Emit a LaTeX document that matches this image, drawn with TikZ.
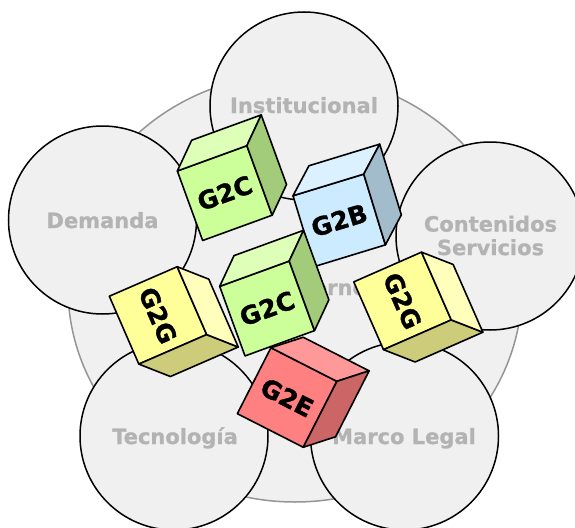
\documentclass[tikz,border=0pt]{standalone}
\usepackage{fontspec}
\setmainfont{DejaVu Sans}
\newfontfamily\areafont[BoldFeatures={FakeBold=0.8}]{DejaVu Sans}
\newfontfamily\cubefont[BoldFeatures={FakeBold=1.5}]{DejaVu Sans}
\usepackage{tikz}

\definecolor{areafill}{HTML}{F0F0F0}
\definecolor{labelgray}{HTML}{B3B3B3}
\definecolor{ringgray}{HTML}{959595}
\definecolor{g2cf}{HTML}{CCFF99}
\definecolor{g2ct}{HTML}{DDFFB8}
\definecolor{g2cs}{HTML}{A3CC7A}
\definecolor{g2bf}{HTML}{CCEBFF}
\definecolor{g2bt}{HTML}{DCF1FF}
\definecolor{g2bs}{HTML}{A3BCCC}
\definecolor{g2gf}{HTML}{FFFF99}
\definecolor{g2gl}{HTML}{FFFFBB}
\definecolor{g2gd}{HTML}{CCCC7A}
\definecolor{g2ef}{HTML}{FF8080}
\definecolor{g2et}{HTML}{FF9999}
\definecolor{g2es}{HTML}{CC6666}

\begin{document}
\begin{tikzpicture}[x=1pt, y=-1pt,
  area/.style={draw=black, line width=1.5pt, fill=areafill},
  areatext/.style={text=labelgray, font=\areafont\bfseries\fontsize{21}{23.5}\selectfont, inner sep=0pt},
  cubeline/.style={draw=black, line width=1.6pt, line join=round},
  cubetext/.style={font=\cubefont\bfseries\fontsize{25}{25}\selectfont, inner sep=0pt}]
\useasboundingbox (0,0) rectangle (575,527);
\clip (0,0) rectangle (575,527);
\fill[white] (0,0) rectangle (575,527);
\filldraw[fill=areafill, draw=ringgray, line width=1.5pt] (295,288) ellipse [x radius=227pt, y radius=214pt];
\foreach \cx/\cy in {304/106, 102.5/220, 490/236, 174/436, 404.5/436}{
	\filldraw[area] (\cx,\cy) circle [radius=94pt];
}
\node[areatext, anchor=base] (inst) at (304,113) {Institucional};
\node[areatext, anchor=base] (dem) at (102.5,228) {Demanda};
\node[areatext, align=center] (cont) at (490.5,235.5) {Contenidos\\Servicios};
\node[areatext, anchor=base] (tec) at (175,444) {Tecnología};
\node[areatext, anchor=base] (leg) at (404,444) {Marco Legal};
\node[areatext, anchor=base] (gob) at (313,295) {Gobierno};
\foreach \nm/\cx/\cy/\ang/\dy/\fc/\hc/\vc/\lab/\tr in {
	g2c-top/224.75/193.1/20/-24/g2cf/g2ct/g2cs/G2C/20,
	g2b/339.2/220.3/17/-24/g2bf/g2bt/g2bs/G2B/17,
	g2c-mid/267.1/308.5/20/-24/g2cf/g2ct/g2cs/G2C/20,
	g2g-left/158/315.4/23.5/24/g2gf/g2gd/g2gl/G2G/-66.5,
	g2g-right/402.5/300.9/23.7/24/g2gf/g2gd/g2gl/G2G/-66.3,
	g2e/287.1/397.5/-27/-24/g2ef/g2et/g2es/G2E/-27}{
	\pgfmathsetmacro{\hy}{37*sign(\dy)}
	\begin{scope}[shift={(\cx,\cy)}, rotate=\ang]
		\filldraw[cubeline, fill=\fc] (-37,-37) rectangle (37,37);
		\filldraw[cubeline, fill=\hc] (-37,\hy) -- (37,\hy) -- ++(24,\dy) -- ++(-74,0) -- cycle;
		\filldraw[cubeline, fill=\vc] (37,-37) -- (37,37) -- ++(24,\dy) -- ++(0,-74) -- cycle;
		\node[cubetext, rotate=\tr] (\nm) at (0,0) {\lab};
	\end{scope}
}
\end{tikzpicture}
\end{document}
